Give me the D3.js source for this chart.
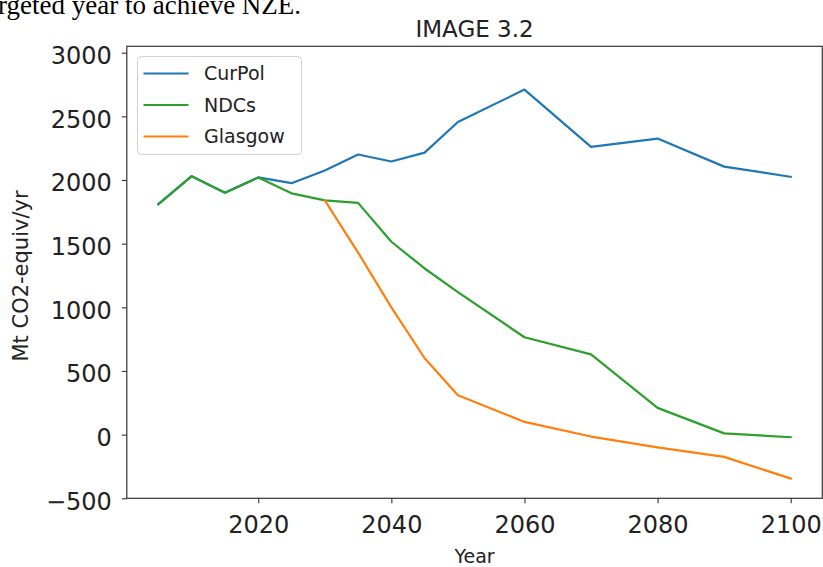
<!DOCTYPE html>
<html>
<head>
<meta charset="utf-8">
<script src="https://cdn.jsdelivr.net/npm/d3@7"></script>
<style>
  html, body { margin: 0; padding: 0; background: #fff; }
  svg { display: block; }
</style>
</head>
<body>
<svg id="chart" width="823" height="567"></svg>
<script>
// Emission pathways (Mt CO2-equiv/yr) by scenario
const years   = [2005, 2010, 2015, 2020, 2025, 2030, 2035, 2040, 2045, 2050, 2060, 2070, 2080, 2090, 2100];
const curPol  = [1810, 2030, 1900, 2020, 1975, 2075, 2200, 2145, 2215, 2455, 2710, 2260, 2325, 2105, 2025];
const ndcs    = [1810, 2030, 1900, 2020, 1895, 1840, 1820, 1515, 1305, 1120, 765, 630, 210, 10, -20];
const glasgow = [null, null, null, null, null, 1840, 1430, 1000, 600, 310, 100, -15, -100, -175, -345];

const seriesNames  = ["CurPol", "NDCs", "Glasgow"];
const seriesColors = ["#1f77b4", "#2ca02c", "#ff7f0e"];
const xTicks = [2020, 2040, 2060, 2080, 2100];
const yTicks = [-500, 0, 500, 1000, 1500, 2000, 2500, 3000];

const svg = d3.select("#chart");
const frame = { left: 126.8, right: 822.3, top: 46.3, bottom: 498.3 };

const x = d3.scaleLinear().domain([2000.25, 2104.75]).range([frame.left, frame.right]);
const y = d3.scaleLinear().domain([-500, 3050]).range([frame.bottom, frame.top]);

const textColor = "#222";
const sans = "DejaVu Sans, sans-serif";

// Sentence fragment above the figure
svg.append("text")
  .attr("x", -2).attr("y", 14)
  .attr("font-family", "Liberation Serif, Times New Roman, serif")
  .attr("font-size", 27)
  .attr("fill", "#000")
  .text("rgeted year to achieve NZE.");

// Title
svg.append("text")
  .attr("x", (frame.left + frame.right) / 2).attr("y", 37)
  .attr("text-anchor", "middle")
  .attr("font-family", sans).attr("font-size", 23)
  .attr("fill", textColor)
  .text("IMAGE 3.2");

// Lines
const table = seriesNames.map((name, i) => ({
  name, color: seriesColors[i],
  values: years.map((yr, j) => ({ year: yr, v: [curPol, ndcs, glasgow][i][j] }))
}));

const line = d3.line()
  .defined(d => d.v !== null)
  .x(d => x(d.year))
  .y(d => y(d.v));

svg.append("g").selectAll("path")
  .data(table)
  .join("path")
  .attr("d", d => line(d.values))
  .attr("fill", "none")
  .attr("stroke", d => d.color)
  .attr("stroke-width", 2.2)
  .attr("stroke-linejoin", "round")
  .attr("stroke-linecap", "square");

// Axes
const xAxis = d3.axisBottom(x).tickValues(xTicks).tickFormat(d3.format("d"))
  .tickSizeOuter(0).tickSize(5).tickPadding(13);
const yAxis = d3.axisLeft(y).tickValues(yTicks).tickFormat(d => d < 0 ? "\u2212" + Math.abs(d) : d)
  .tickSizeOuter(0).tickSize(5).tickPadding(10);

const gx = svg.append("g").attr("transform", `translate(0,${frame.bottom})`).call(xAxis);
const gy = svg.append("g").attr("transform", `translate(${frame.left},0)`).call(yAxis);
[gx, gy].forEach(g => {
  g.select(".domain").remove();
  g.selectAll(".tick line").attr("stroke", "#333").attr("stroke-width", 1.1);
  g.selectAll(".tick text").attr("fill", textColor).attr("font-family", sans).attr("font-size", 24);
});
gy.selectAll(".tick text").attr("dy", "0.45em");

// Frame
svg.append("rect")
  .attr("x", frame.left).attr("y", frame.top)
  .attr("width", frame.right - frame.left).attr("height", frame.bottom - frame.top)
  .attr("fill", "none").attr("stroke", "#333").attr("stroke-width", 1.2);

// Axis labels
svg.append("text")
  .attr("x", (frame.left + frame.right) / 2).attr("y", 563)
  .attr("text-anchor", "middle")
  .attr("font-family", sans).attr("font-size", 19)
  .attr("fill", textColor)
  .text("Year");

svg.append("text")
  .attr("transform", `translate(28,276) rotate(-90)`)
  .attr("text-anchor", "middle")
  .attr("font-family", sans).attr("font-size", 21)
  .attr("fill", textColor)
  .text("Mt CO2-equiv/yr");

// Legend
const legend = svg.append("g");
legend.append("rect")
  .attr("x", 137.5).attr("y", 56.5).attr("width", 164).attr("height", 98)
  .attr("rx", 4)
  .attr("fill", "#fff").attr("fill-opacity", 0.8)
  .attr("stroke", "#d0d0d0").attr("stroke-width", 1);

const items = legend.selectAll("g.item")
  .data(table)
  .join("g")
  .attr("class", "item")
  .attr("transform", (d, i) => `translate(0,${73.5 + i * 31.5})`);
items.append("line")
  .attr("x1", 143.5).attr("x2", 188.5)
  .attr("stroke", d => d.color).attr("stroke-width", 2.2);
items.append("text")
  .attr("x", 204).attr("y", 0).attr("dy", "0.36em")
  .attr("font-family", sans).attr("font-size", 19)
  .attr("fill", textColor)
  .text(d => d.name);
</script>
</body>
</html>
